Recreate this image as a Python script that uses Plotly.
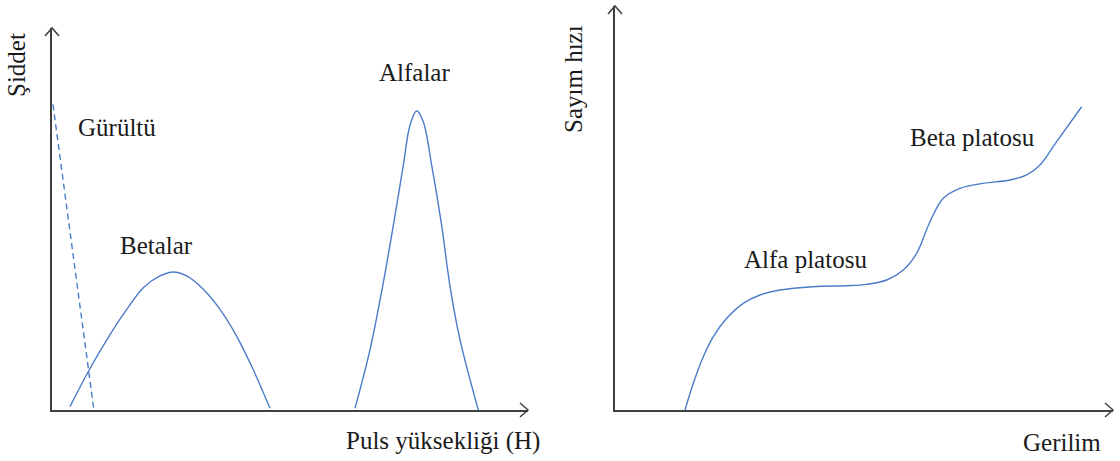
import plotly.graph_objects as go

# ---- data (chart units) ----
noise_x = [0.02, 0.88]
noise_y = [8.0, 0.0]

beta_x = [0.378, 0.763, 1.218, 1.569, 1.918, 2.269, 2.548, 2.830, 3.179, 3.529, 3.880, 4.229, 4.580]
beta_y = [0.087, 1.008, 1.974, 2.632, 3.203, 3.508, 3.613, 3.508, 3.158, 2.632, 1.929, 1.053, 0.045]

alpha_x = [6.366, 6.681, 6.960, 7.170, 7.380, 7.521, 7.662, 7.800, 7.977, 8.187, 8.361, 8.571, 8.956]
alpha_y = [0.045, 1.579, 3.334, 4.824, 6.403, 7.455, 7.834, 7.545, 6.403, 4.824, 3.245, 1.842, 0.0]

plat_x = [1.406, 1.572, 1.773, 1.974, 2.243, 2.576, 2.912, 3.313, 3.982, 4.653, 5.054, 5.456,
          5.789, 6.058, 6.325, 6.592, 6.928, 7.396, 7.932, 8.267, 8.534, 8.869, 9.371]
plat_y = [0.0, 0.661, 1.319, 1.814, 2.270, 2.641, 2.847, 2.970, 3.052, 3.077, 3.111, 3.218,
          3.465, 3.879, 4.661, 5.240, 5.488, 5.611, 5.693, 5.817, 6.064, 6.641, 7.507]

W, H = 1120, 461
def px(x):
    return x / W
def py(y):
    return 1 - y / H

CURVE = "#4a7cc9"
AXIS = "#404040"
FONT = "Times New Roman, Liberation Serif, serif"
TXT = "#1a1a1a"

fig = go.Figure()
fig.add_trace(go.Scatter(x=noise_x, y=noise_y, mode="lines", xaxis="x", yaxis="y",
                         line=dict(color=CURVE, width=1.4, dash="6px,4px"), cliponaxis=False))
for xs, ys, xa, ya in ((beta_x, beta_y, "x", "y"), (alpha_x, alpha_y, "x", "y"),
                       (plat_x, plat_y, "x2", "y2")):
    fig.add_trace(go.Scatter(x=xs, y=ys, mode="lines", xaxis=xa, yaxis=ya,
                             line=dict(color=CURVE, width=1.4, shape="spline", smoothing=1.0),
                             cliponaxis=False))

ax = dict(showline=True, linecolor=AXIS, linewidth=1.5, showgrid=False, zeroline=False,
          showticklabels=False, ticks="", range=[0, 10], fixedrange=True)

fig.update_layout(
    width=W, height=H, margin=dict(l=0, r=0, t=0, b=0),
    paper_bgcolor="white", plot_bgcolor="white", showlegend=False,
    xaxis=dict(ax, domain=[px(52), px(528)], anchor="y"),
    yaxis=dict(ax, domain=[py(410), py(28)], anchor="x"),
    xaxis2=dict(ax, domain=[px(615), px(1113)], anchor="y2"),
    yaxis2=dict(ax, domain=[py(410), py(6)], anchor="x2"),
)

shapes = []
for xr, yr in (("x", "y"), ("x2", "y2")):
    shapes.append(dict(type="path", xref=f"{xr} domain", yref=f"{yr} domain",
                       xsizemode="pixel", ysizemode="pixel", xanchor=1, yanchor=0,
                       path="M-8,-7 L0,0 L-8,7", line=dict(color=AXIS, width=1.5)))
    shapes.append(dict(type="path", xref=f"{xr} domain", yref=f"{yr} domain",
                       xsizemode="pixel", ysizemode="pixel", xanchor=0, yanchor=1,
                       path="M-7,-8 L0,0 L7,-8", line=dict(color=AXIS, width=1.5)))
fig.update_layout(shapes=shapes)

labels = [
    ("Şiddet", 17, 65, -90),
    ("Gürültü", 117, 127, 0),
    ("Betalar", 156, 246, 0),
    ("Alfalar", 414, 72, 0),
    ("Puls yüksekliği (H)", 443, 441, 0),
    ("Sayım hızı", 573, 79, -90),
    ("Beta platosu", 972, 137, 0),
    ("Alfa platosu", 805, 259, 0),
    ("Gerilim", 1062, 442, 0),
]
for t, x, y, ang in labels:
    fig.add_annotation(text=t, x=px(x), y=py(y), xref="paper", yref="paper",
                       showarrow=False, textangle=ang, xanchor="center", yanchor="middle",
                       font=dict(family=FONT, size=25, color=TXT))

fig.write_html("out.html")
